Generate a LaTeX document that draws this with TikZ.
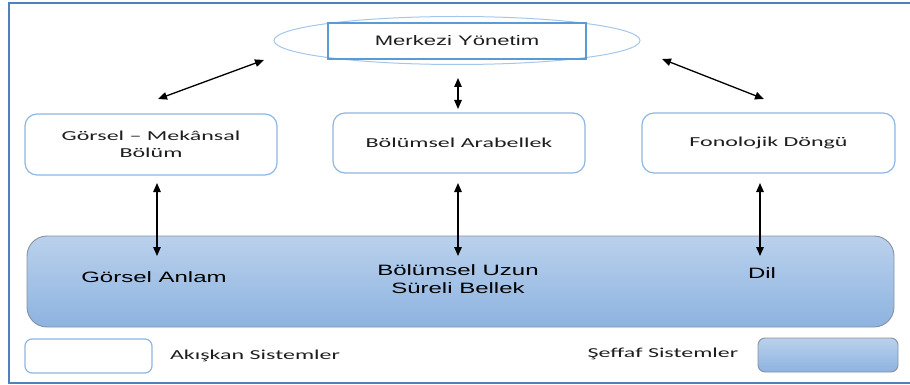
\documentclass[tikz,border=0pt]{standalone}
\usepackage{fontspec}
\usetikzlibrary{arrows.meta,shapes.geometric}
\newfontfamily\labelfont[FakeStretch=1.75,Ligatures=TeX]{Carlito}
\newfontfamily\headfont[FakeStretch=1.6,Ligatures=TeX]{Liberation Sans}
\definecolor{frameblue}{HTML}{4F81BD}
\definecolor{boxblue}{HTML}{8DB6E2}
\definecolor{ellblue}{HTML}{A3C6EA}
\definecolor{rectblue}{HTML}{5B9BD5}
\definecolor{fillTop}{HTML}{BAD1EC}
\definecolor{fillBot}{HTML}{8DB3E0}
\definecolor{edgegray}{HTML}{8591A3}
\definecolor{inkgray}{HTML}{1E1E1E}
\tikzset{
  frameline/.style={draw=frameblue,line width=2pt},
  softbox/.style={draw=boxblue,line width=1.2pt,fill=white,rounded corners=12pt,
    inner sep=0pt,align=center,text=inkgray,
    font=\labelfont\fontsize{13.7}{16.5}\selectfont},
  bluebox/.style={draw=edgegray,line width=0.9pt,top color=fillTop,bottom color=fillBot,
    inner sep=0pt},
  bigtext/.style={align=center,text=black,font=\headfont\fontsize{15}{17.5}\selectfont},
  legtext/.style={text=inkgray,font=\labelfont\fontsize{13.7}{16}\selectfont},
  link/.style={line width=1.3pt,
    {Triangle[length=9pt,width=7.5pt]}-{Triangle[length=9pt,width=7.5pt]}},
}
\begin{document}
\begin{tikzpicture}[x=1pt,y=-1pt]
\useasboundingbox (0,0) rectangle (910,385);
% outer frame (right side runs off the page)
\draw[frameline] (914,3) -- (9,3) -- (9,383) -- (914,383);

% central executive
\node[ellipse,draw=ellblue,line width=1pt,minimum width=366pt,minimum height=48pt,inner sep=0pt]
  (ell) at (457,40.5) {};
\node[draw=rectblue,line width=1.1pt,minimum width=258pt,minimum height=36pt,inner sep=0pt,
  font=\headfont\fontsize{13.8}{16}\selectfont,text=inkgray]
  (mgr) at (457,41) {Merkezi Yönetim};

% fluid systems
\node[softbox,minimum width=252pt,minimum height=61pt] (b1) at (151,144.5)
  {Görsel – Mekânsal\\Bölüm};
\node[softbox,minimum width=252pt,minimum height=60pt] (b2) at (459,143)
  {Bölümsel Arabellek};
\node[softbox,minimum width=253pt,minimum height=60pt] (b3) at (768.5,143)
  {Fonolojik Döngü};

% crystallised systems
\node[bluebox,rounded corners=20pt,minimum width=867pt,minimum height=91pt] (big) at (460.5,281.5) {};
\node[bigtext] (t1) at (154,277) {Görsel Anlam};
\node[bigtext] (t2) at (458,279) {Bölümsel Uzun\\Süreli Bellek};
\node[bigtext] (t3) at (762,273) {Dil};

% legend
\node[softbox,rounded corners=7pt,minimum width=127pt,minimum height=34pt] (leg1) at (88.5,356) {};
\node[legtext] (lt1) at (255,356) {Akışkan Sistemler};
\node[bluebox,rounded corners=7pt,minimum width=140pt,minimum height=34pt] (leg2) at (828,355) {};
\node[legtext] (lt2) at (663,354) {Şeffaf Sistemler};

% connector end points
\coordinate (d1a) at (264,60);
\coordinate (d1b) at (158,99);
\coordinate (d3a) at (662,59);
\coordinate (d3b) at (764,99);
\coordinate (m1) at (458,78);
\coordinate (m2) at (458,109);
\coordinate (v1a) at (157,183);
\coordinate (v1b) at (157,256);
\coordinate (v2a) at (458,183);
\coordinate (v2b) at (458,256);
\coordinate (v3a) at (760,183);
\coordinate (v3b) at (760,256);

% connectors
\draw[link] (d1a) -- (d1b);
\draw[link] (d3a) -- (d3b);
\draw[link] (m1) -- (m2);
\draw[link] (v1a) -- (v1b);
\draw[link] (v2a) -- (v2b);
\draw[link] (v3a) -- (v3b);
\end{tikzpicture}
\end{document}
